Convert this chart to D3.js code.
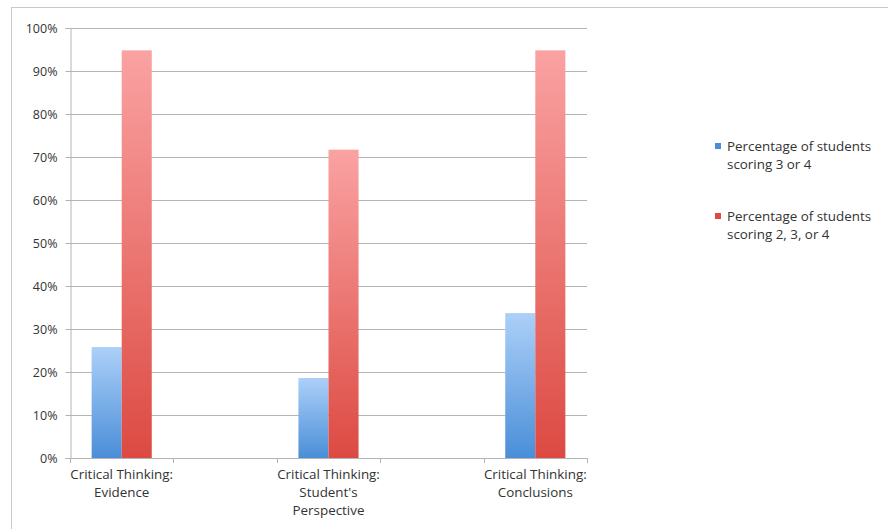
<!DOCTYPE html>
<html>
<head>
<meta charset="utf-8">
<script src="https://cdn.jsdelivr.net/npm/d3@7"></script>
<style>
  body { margin: 0; background: #fff; }
  text { font-family: "Open Sans", sans-serif; fill: #333; }
</style>
</head>
<body>
<div id="chart"></div>
<script>
// DATA--------------------
var categories = ["Critical Thinking:\nEvidence", "Critical Thinking:\nStudent's\nPerspective", "Critical Thinking:\nConclusions"];
var seriesNames = ["Percentage of students\nscoring 3 or 4", "Percentage of students\nscoring 2, 3, or 4"];
var score34 = [25.8, 18.6, 33.7];
var score234 = [94.8, 71.7, 94.8];
var yTicks = [0, 10, 20, 30, 40, 50, 60, 70, 80, 90, 100];

var svgWidth = 888;
var svgHeight = 529;
var margin = { top: 28, left: 70, right: 301, bottom: 71 };
var width = svgWidth - margin.left - margin.right;
var height = svgHeight - margin.top - margin.bottom;

var svg = d3.select("#chart").append("svg")
    .attr("width", svgWidth)
    .attr("height", svgHeight);

// gradients, one per series
var defs = svg.append("defs");
var gradColors = [["#acd0f8", "#4a8ed8"], ["#faa2a2", "#dc4a42"]];
gradColors.forEach((c, i) => {
    var g = defs.append("linearGradient")
        .attr("id", "grad" + i)
        .attr("x1", 0).attr("y1", 0).attr("x2", 0).attr("y2", 1);
    g.append("stop").attr("offset", "0%").attr("stop-color", c[0]);
    g.append("stop").attr("offset", "100%").attr("stop-color", c[1]);
});

// outer frame
svg.append("rect")
    .attr("x", 11.5).attr("y", 7.5)
    .attr("width", svgWidth).attr("height", svgHeight)
    .attr("fill", "none")
    .attr("stroke", "#c8c8c8");

var chart = svg.append("g")
    .attr("transform", `translate(${margin.left}, ${margin.top})`);

// slots: each category followed by an empty slot
var slots = [];
categories.forEach((c, i) => {
    slots.push("c" + i);
    if (i < categories.length - 1) slots.push("gap" + i);
});

var x = d3.scaleBand().domain(slots).range([0, width]).padding(0);
var xSub = d3.scaleBand().domain([0, 1]).range([0, x.bandwidth()]).paddingInner(0).paddingOuter(0.72);
var y = d3.scaleLinear().domain([0, 100]).range([height, 0]);

// gridlines
chart.append("g")
    .selectAll("line")
    .data(yTicks.filter(d => d > 0))
    .enter().append("line")
    .attr("x1", 0).attr("x2", width)
    .attr("y1", d => Math.round(y(d)) + 0.5)
    .attr("y2", d => Math.round(y(d)) + 0.5)
    .attr("stroke", "#b4b4b4");

// y axis
var yAxis = chart.append("g")
    .attr("transform", "translate(0.5,0)")
    .call(d3.axisLeft(y).tickValues(yTicks).tickFormat(d => d + "%").tickSize(5).tickPadding(8));
yAxis.select(".domain").attr("stroke", "#b4b4b4");
yAxis.selectAll(".tick line").attr("stroke", "#b4b4b4");
yAxis.selectAll(".tick text").attr("font-size", 12.5).attr("fill", "#333").attr("font-family", "Open Sans");

// x axis
var boundaries = slots.map(s => x(s)).concat([width]);
var xAxisG = chart.append("g").attr("transform", `translate(0, ${height})`);
xAxisG.append("line")
    .attr("x1", 0).attr("x2", width)
    .attr("y1", 0.5).attr("y2", 0.5)
    .attr("stroke", "#b4b4b4");
xAxisG.selectAll("line.tick")
    .data(boundaries)
    .enter().append("line")
    .attr("class", "tick")
    .attr("x1", d => Math.round(d) + 0.5).attr("x2", d => Math.round(d) + 0.5)
    .attr("y1", 0).attr("y2", 5)
    .attr("stroke", "#b4b4b4");

var catLabels = xAxisG.selectAll("text.cat")
    .data(categories)
    .enter().append("text")
    .attr("class", "cat")
    .attr("text-anchor", "middle")
    .attr("font-size", 13.4)
    .attr("transform", (d, i) => `translate(${x("c" + i) + x.bandwidth() / 2}, 21)`);
catLabels.each(function(d) {
    var t = d3.select(this);
    d.split("\n").forEach((line, j) => {
        t.append("tspan").attr("x", 0).attr("y", j * 18).text(line);
    });
});

// bars
var seriesData = [score34, score234];
seriesData.forEach((vals, s) => {
    chart.selectAll("rect.s" + s)
        .data(vals)
        .enter().append("rect")
        .attr("class", "s" + s)
        .attr("x", (d, i) => x("c" + i) + xSub(s))
        .attr("width", xSub.bandwidth())
        .attr("y", d => y(d))
        .attr("height", d => height - y(d))
        .attr("fill", `url(#grad${s})`);
});

// legend
var legend = svg.append("g").attr("transform", "translate(715, 143)");
var legendItems = legend.selectAll("g")
    .data(seriesNames)
    .enter().append("g")
    .attr("transform", (d, i) => `translate(0, ${i * 70})`);
legendItems.append("rect")
    .attr("width", 6).attr("height", 6)
    .attr("fill", (d, i) => gradColors[i][1]);
legendItems.each(function(d) {
    var t = d3.select(this).append("text").attr("font-size", 13.4);
    d.split("\n").forEach((line, j) => {
        t.append("tspan").attr("x", 12).attr("y", 8 + j * 18).text(line);
    });
});
</script>
</body>
</html>
